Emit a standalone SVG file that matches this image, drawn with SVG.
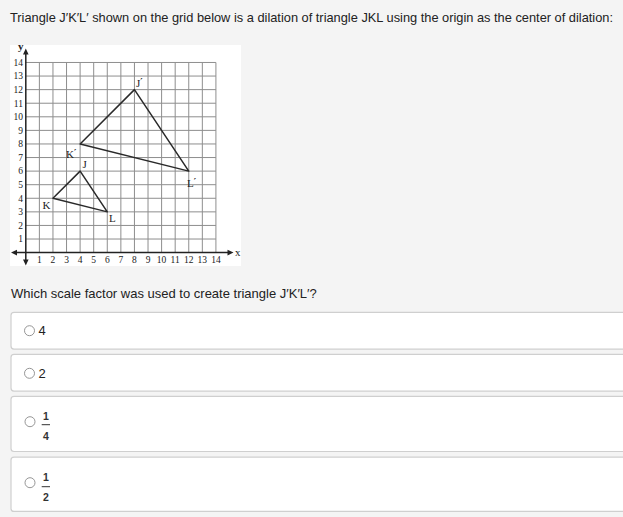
<svg xmlns="http://www.w3.org/2000/svg" width="623" height="517" viewBox="0 0 623 517">
<defs>
<style>
.ui{font-family:"Liberation Sans",Arial,sans-serif;font-size:13px;fill:#222}
.num{font-family:"Liberation Serif","Times New Roman",serif;font-size:9.5px;fill:#222}
.lab{font-family:"Liberation Serif","Times New Roman",serif;font-size:11px;fill:#222}
.pr{font-family:"DejaVu Sans",sans-serif;font-size:9px;font-weight:bold}
.grid{stroke:#8e8e8e;stroke-width:1;fill:none}
.axis{stroke:#222;stroke-width:1.5;fill:none}
.tri{stroke:#2a2a2a;stroke-width:1.5;fill:none;stroke-linejoin:round}
.box{fill:#fff;stroke:#cfcfcf;stroke-width:1.2}
.radio{fill:#fff;stroke:#8a8a8a;stroke-width:0.9}
.frac{font-family:"Liberation Sans",Arial,sans-serif;font-size:10.5px;font-weight:bold;fill:#333;text-anchor:middle}
</style>
</defs>
<rect width="623" height="517" fill="#f4f4f4"/>
<text class="ui" x="10" y="22" textLength="603" lengthAdjust="spacingAndGlyphs">Triangle J′K′L′ shown on the grid below is a dilation of triangle JKL using the origin as the center of dilation:</text>

<g id="graph">
<rect x="10" y="45" width="231" height="221" fill="#fff"/>
<path class="grid" d="M39.38 62.48V252.6M52.96 62.48V252.6M66.54 62.48V252.6M80.12 62.48V252.6M93.7 62.48V252.6M107.28 62.48V252.6M120.86 62.48V252.6M134.44 62.48V252.6M148.02 62.48V252.6M161.6 62.48V252.6M175.18 62.48V252.6M188.76 62.48V252.6M202.34 62.48V252.6M215.92 62.48V252.6M25.8 239.02H215.92M25.8 225.44H215.92M25.8 211.86H215.92M25.8 198.28H215.92M25.8 184.7H215.92M25.8 171.12H215.92M25.8 157.54H215.92M25.8 143.96H215.92M25.8 130.38H215.92M25.8 116.8H215.92M25.8 103.22H215.92M25.8 89.64H215.92M25.8 76.06H215.92M25.8 62.48H215.92"/>
<path class="axis" d="M15 252.6H229M25.8 53V261"/>
<path fill="#222" d="M11 252.6l6-2.8v5.6zM233.5 252.6l-6-2.8v5.6zM25.8 48.5l-2.8 6h5.6zM25.8 265.5l-2.8-6h5.6z"/>
<text class="lab" x="235" y="256">x</text>
<text class="lab" x="18" y="50" font-weight="bold">y</text>
<g class="num" text-anchor="end">
<text x="23" y="242.3">1</text><text x="23" y="228.7">2</text><text x="23" y="215.1">3</text><text x="23" y="201.5">4</text><text x="23" y="188">5</text><text x="23" y="174.4">6</text><text x="23" y="160.8">7</text><text x="23" y="147.2">8</text><text x="23" y="133.6">9</text><text x="23" y="120.1">10</text><text x="23" y="106.5">11</text><text x="23" y="92.9">12</text><text x="23" y="79.3">13</text><text x="23" y="65.7">14</text>
</g>
<g class="num" text-anchor="middle">
<text x="39.38" y="262.8">1</text><text x="52.96" y="262.8">2</text><text x="66.54" y="262.8">3</text><text x="80.12" y="262.8">4</text><text x="93.7" y="262.8">5</text><text x="107.28" y="262.8">6</text><text x="120.86" y="262.8">7</text><text x="134.44" y="262.8">8</text><text x="148.02" y="262.8">9</text><text x="161.6" y="262.8">10</text><text x="175.18" y="262.8">11</text><text x="188.76" y="262.8">12</text><text x="202.34" y="262.8">13</text><text x="215.92" y="262.8">14</text>
</g>
</g>

<g id="triangle-JKL">
<polygon class="tri" points="80.12,171.12 52.96,198.28 107.28,211.86"/>
<text class="lab" x="82.5" y="168">J</text>
<text class="lab" x="42.5" y="209">K</text>
<text class="lab" x="109" y="222">L</text>
</g>
<g id="triangle-JKL-prime">
<polygon class="tri" points="134.44,89.64 80.12,143.96 188.76,171.12"/>
<text class="lab" x="136" y="87">J<tspan class="pr" dy="-2">′</tspan></text>
<text class="lab" x="66" y="158">K<tspan class="pr" dy="-2">′</tspan></text>
<text class="lab" x="187" y="187">L<tspan class="pr" dy="-2">′</tspan></text>
</g>

<text class="ui" x="11" y="298">Which scale factor was used to create triangle J′K′L′?</text>

<g id="option-4">
<rect class="box" x="11" y="312.3" width="620" height="36.8" rx="3"/>
<circle class="radio" cx="29.5" cy="330.7" r="5"/>
<text class="ui" x="38.5" y="335.3">4</text>
</g>
<g id="option-2">
<rect class="box" x="11" y="354.3" width="620" height="36.8" rx="3"/>
<circle class="radio" cx="29.5" cy="373.3" r="5"/>
<text class="ui" x="38.5" y="378">2</text>
</g>
<g id="option-quarter">
<rect class="box" x="11" y="396.3" width="620" height="55.2" rx="3"/>
<circle class="radio" cx="30" cy="421.7" r="5"/>
<text class="frac" x="45.8" y="420">1</text>
<line x1="41.7" y1="424.7" x2="50" y2="424.7" stroke="#333" stroke-width="1"/>
<text class="frac" x="45.8" y="439.5">4</text>
</g>
<g id="option-half">
<rect class="box" x="11" y="457.1" width="620" height="54.3" rx="3"/>
<circle class="radio" cx="30" cy="482.7" r="5"/>
<text class="frac" x="45.8" y="481.2">1</text>
<line x1="41.7" y1="486.7" x2="50" y2="486.7" stroke="#333" stroke-width="1"/>
<text class="frac" x="45.8" y="500.5">2</text>
</g>
</svg>
